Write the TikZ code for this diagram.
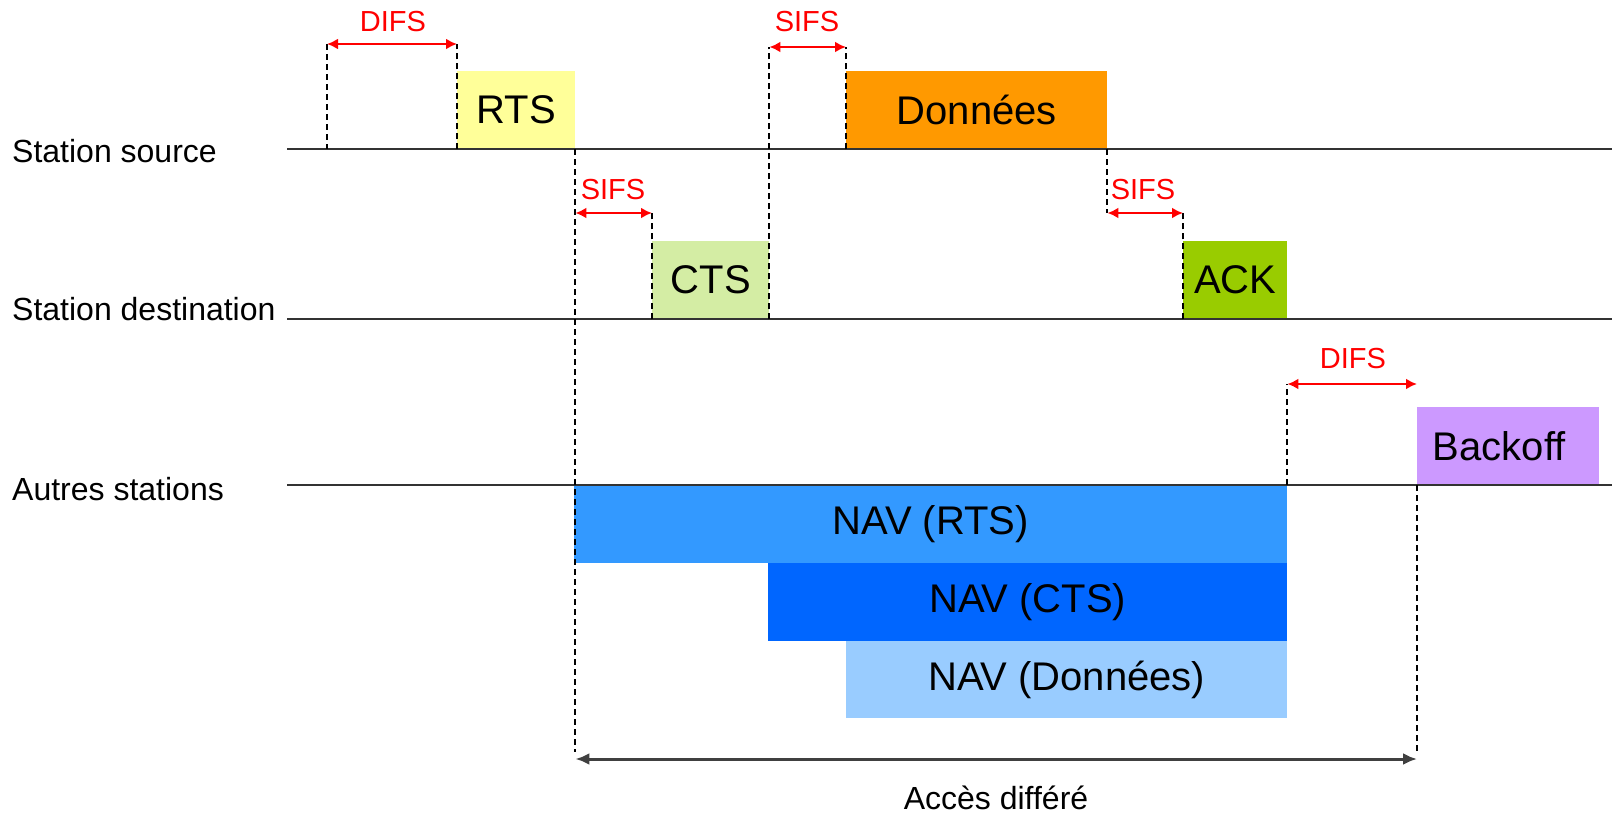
\documentclass[tikz,border=0pt]{standalone}
\usepackage{fontspec}
\setmainfont{Liberation Sans}
\usetikzlibrary{arrows.meta}
\definecolor{rtsfill}{HTML}{FFFF99}
\definecolor{datafill}{HTML}{FF9900}
\definecolor{ctsfill}{HTML}{D4EDA4}
\definecolor{ackfill}{HTML}{99CC00}
\definecolor{bofill}{HTML}{CC99FF}
\definecolor{navrfill}{HTML}{3399FF}
\definecolor{navcfill}{HTML}{0066FF}
\definecolor{navdfill}{HTML}{99CCFF}
\begin{document}
\begin{tikzpicture}[x=1pt,y=-1pt,
  axis/.style={line width=2.5pt, black!80},
  guide/.style={line width=2pt, dash pattern=on 6pt off 4pt},
  gap/.style={red, line width=2.5pt, {Latex[length=11pt,width=11pt]}-{Latex[length=11pt,width=11pt]}},
  span/.style={black!75, line width=3pt, {Latex[length=14pt,width=12pt]}-{Latex[length=14pt,width=12pt]}},
  gaplabel/.style={red, inner sep=0, font=\fontsize{29}{34}\selectfont},
  frame/.style={anchor=north west, inner sep=0, draw=none, font=\fontsize{40}{48}\selectfont},
  rowlabel/.style={anchor=base west, inner sep=0, font=\fontsize{32}{38}\selectfont},
]
\useasboundingbox (0,0) rectangle (1612,817);

% frames on the three time lines
\node[frame, fill=rtsfill,  minimum width=118pt, minimum height=78pt] (rts)     at (457,71)  {RTS};
\node[frame, fill=datafill, minimum width=261pt, minimum height=78pt] (data)    at (846,71)  {Données};
\node[frame, fill=ctsfill,  minimum width=117pt, minimum height=78pt] (cts)     at (652,241) {CTS};
\node[frame, fill=ackfill,  minimum width=104pt, minimum height=78pt] (ack)     at (1183,241) {ACK};
\node[frame, fill=bofill,   minimum width=182pt, minimum height=78pt] (backoff) at (1417,407) {Backoff\hspace*{18pt}};
\node[frame, fill=navrfill, minimum width=713pt, minimum height=78pt] (navr)    at (574,485) {NAV (RTS)};
\node[frame, fill=navcfill, minimum width=519pt, minimum height=78pt] (navc)    at (768,563) {NAV (CTS)};
\node[frame, fill=navdfill, minimum width=441pt, minimum height=77pt] (navd)    at (846,641) {NAV (Données)};

% time lines
\coordinate (srcL) at (287,149);  \coordinate (srcR) at (1612,149);
\coordinate (dstL) at (287,319);  \coordinate (dstR) at (1612,319);
\coordinate (othL) at (287,485);  \coordinate (othR) at (1612,485);
\draw[axis] (srcL) -- (srcR);
\draw[axis] (dstL) -- (dstR);
\draw[axis] (othL) -- (othR);

\node[rowlabel] (lsrc) at (12,162) {Station source};
\node[rowlabel] (ldst) at (12,320) {Station destination};
\node[rowlabel] (loth) at (12,500) {Autres stations};

% heights of the interval markers
\coordinate (difsTop) at (0,44);
\coordinate (sifsTop) at (0,47);
\coordinate (sifsMid) at (0,213);
\coordinate (difsLow) at (0,384);
\coordinate (accRow)  at (0,759);
\coordinate (accStop) at (0,752);
\coordinate (difsStart) at (327,44);

% dashed guides
\draw[guide] (difsStart) -- (difsStart |- srcL);
\draw[guide] (rts.south west) -- (rts.south west |- difsTop);
\draw[guide] (rts.south east) -- (rts.south east |- accStop);
\draw[guide] (cts.south east) -- (cts.south east |- sifsTop);
\draw[guide] (data.south west) -- (data.south west |- sifsTop);
\draw[guide] (cts.south west) -- (cts.south west |- sifsMid);
\draw[guide] (data.south east) -- (data.south east |- sifsMid);
\draw[guide] (ack.south west) -- (ack.south west |- sifsMid);
\draw[guide] (ack.south east |- othL) -- (ack.south east |- difsLow);
\draw[guide] (backoff.south west) -- (backoff.south west |- accStop);

% interframe spaces
\draw[gap] (difsStart) -- (rts.south west |- difsTop);
\node[gaplabel] (difs1) at (393,22) {DIFS};
\draw[gap] (cts.south east |- sifsTop) -- (data.south west |- sifsTop);
\node[gaplabel] (sifs1) at (807,22) {SIFS};
\draw[gap] (rts.south east |- sifsMid) -- (cts.south west |- sifsMid);
\node[gaplabel] (sifs2) at (613,190) {SIFS};
\draw[gap] (data.south east |- sifsMid) -- (ack.south west |- sifsMid);
\node[gaplabel] (sifs3) at (1143,190) {SIFS};
\draw[gap] (ack.south east |- difsLow) -- (backoff.south west |- difsLow);
\node[gaplabel] (difs2) at (1353,359) {DIFS};

% deferred access
\draw[span] (rts.south east |- accRow) -- (backoff.south west |- accRow);
\node[inner sep=0, anchor=base, font=\fontsize{32}{38}\selectfont] (acc) at (996,809) {Accès différé};
\end{tikzpicture}
\end{document}
